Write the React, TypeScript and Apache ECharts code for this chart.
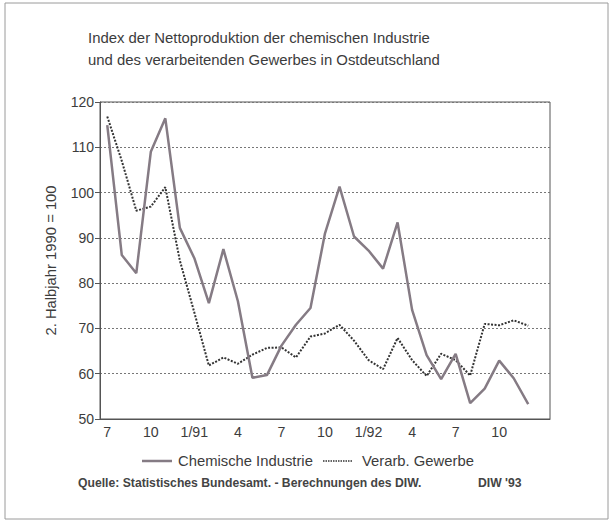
import React, { useEffect, useRef } from "react";
import * as echarts from "echarts";

const months = [
  "7", "8", "9", "10", "11", "12",
  "1/91", "2", "3", "4", "5", "6", "7", "8", "9", "10", "11", "12",
  "1/92", "2", "3", "4", "5", "6", "7", "8", "9", "10", "11", "12",
  "1/93",
];

const chemische = [
  114.9, 86.2, 82.2, 109.0, 116.4, 92.2,
  85.5, 75.6, 87.5, 76.0, 59.1, 59.7, 66.2, 70.8, 74.5, 91.0, 101.3, 90.3,
  87.2, 83.2, 93.4, 74.1, 64.1, 58.8, 64.4, 53.5, 56.7, 62.9, 59.0, 53.3,
];

const gewerbe = [
  116.8, 107.0, 96.0, 96.9, 101.2, 85.0,
  73.5, 61.8, 63.6, 62.2, 64.2, 65.7, 65.8, 63.6, 68.2, 68.9, 70.8, 67.3,
  63.0, 61.0, 67.9, 63.0, 59.5, 64.4, 63.0, 59.6, 71.0, 70.7, 71.8, 70.6,
];

const seriesNames = ["Chemische Industrie", "Verarb. Gewerbe"];

const yTicks = { min: 50, max: 120, interval: 10 };

const FONT = "'Liberation Sans', Arial, Helvetica, sans-serif";
const TXT = "#3c3c3c";
const CHEM = "#857b84";
const GEW = "#333333";

export default function App() {
  const ref = useRef<HTMLDivElement>(null);

  useEffect(() => {
    document.body.style.margin = "0";
    if (!ref.current) return;
    const chart = echarts.init(ref.current, undefined, { renderer: "svg" });
    chart.setOption({
      animation: false,
      backgroundColor: "#ffffff",
      textStyle: { fontFamily: FONT },
      title: {
        text: "Index der Nettoproduktion der chemischen Industrie\nund des verarbeitenden Gewerbes in Ostdeutschland",
        left: 88,
        top: 27,
        padding: 0,
        textStyle: {
          fontFamily: FONT,
          fontSize: 14.9,
          fontWeight: "normal",
          color: TXT,
          lineHeight: 22,
        },
      },
      grid: {
        left: 100,
        right: 62,
        top: 102,
        bottom: 104,
        show: true,
        borderColor: "#555",
        borderWidth: 1,
        backgroundColor: "transparent",
      },
      xAxis: {
        type: "category",
        data: months,
        boundaryGap: true,
        axisLine: { lineStyle: { color: "#555", width: 1 } },
        axisTick: {
          alignWithLabel: true,
          interval: 0,
          length: 4,
          lineStyle: { color: "#555" },
        },
        axisLabel: {
          interval: (index: number) => index % 3 === 0 && index < 30,
          fontFamily: FONT,
          fontSize: 14.2,
          color: TXT,
          margin: 6,
        },
        splitLine: { show: false },
      },
      yAxis: {
        type: "value",
        min: yTicks.min,
        max: yTicks.max,
        interval: yTicks.interval,
        name: "2. Halbjahr 1990 = 100",
        nameLocation: "middle",
        nameGap: 42,
        nameRotate: 90,
        nameTextStyle: { fontFamily: FONT, fontSize: 14.8, color: TXT },
        axisLine: { show: true, lineStyle: { color: "#555", width: 1 } },
        axisTick: { show: true, length: 5, lineStyle: { color: "#555" } },
        axisLabel: {
          fontFamily: FONT,
          fontSize: 14,
          color: TXT,
          margin: 6,
        },
        splitLine: {
          show: true,
          lineStyle: { color: "#777", type: [2, 2], width: 1 },
        },
      },
      series: [
        {
          name: seriesNames[0],
          type: "line",
          data: chemische,
          symbol: "none",
          color: CHEM,
          lineStyle: { color: CHEM, width: 2.5 },
          z: 3,
        },
        {
          name: seriesNames[1],
          type: "line",
          data: gewerbe,
          symbol: "none",
          color: GEW,
          lineStyle: { color: GEW, width: 2, type: [2, 1.5] },
          z: 2,
        },
      ],
      graphic: [
        {
          type: "rect",
          shape: { x: 5, y: 3, width: 603, height: 516 },
          style: { fill: "none", stroke: "#9a9a9a", lineWidth: 1 },
          silent: true,
        },
        {
          type: "line",
          shape: { x1: 142, y1: 461, x2: 172, y2: 461 },
          style: { stroke: CHEM, lineWidth: 2.5 },
        },
        {
          type: "text",
          x: 178,
          y: 461,
          style: {
            text: seriesNames[0],
            font: `14.8px ${FONT}`,
            fill: TXT,
            verticalAlign: "middle",
          },
        },
        {
          type: "line",
          shape: { x1: 323, y1: 461, x2: 353, y2: 461 },
          style: { stroke: GEW, lineWidth: 1.5, lineDash: [1.5, 1] },
        },
        {
          type: "text",
          x: 362,
          y: 461,
          style: {
            text: seriesNames[1],
            font: `14.8px ${FONT}`,
            fill: TXT,
            verticalAlign: "middle",
          },
        },
        {
          type: "text",
          x: 78,
          y: 483,
          style: {
            text: "Quelle: Statistisches Bundesamt. - Berechnungen des DIW.",
            font: `bold 12.2px ${FONT}`,
            fill: "#444",
            verticalAlign: "middle",
          },
        },
        {
          type: "text",
          x: 478,
          y: 483,
          style: {
            text: "DIW '93",
            font: `bold 12.2px ${FONT}`,
            fill: "#444",
            verticalAlign: "middle",
          },
        },
      ],
    });
    return () => chart.dispose();
  }, []);

  return (
    <div
      ref={ref}
      style={{ position: "absolute", left: 0, top: 0, width: 612, height: 523 }}
    />
  );
}
